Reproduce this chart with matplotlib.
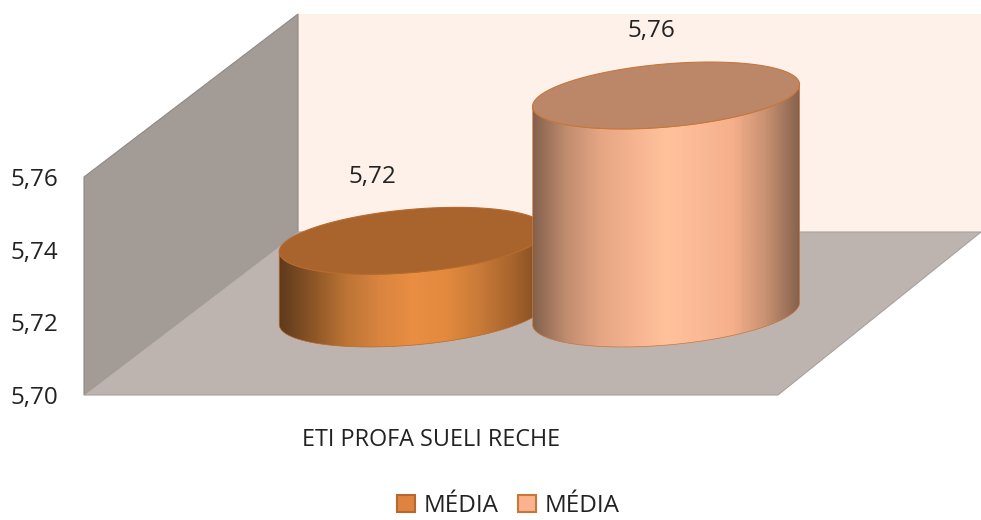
import numpy as np
import matplotlib
matplotlib.use('Agg')
import matplotlib.pyplot as plt
from matplotlib.colors import LinearSegmentedColormap
from matplotlib.patches import Patch, Polygon

categories = ['ETI PROFA SUELI RECHE']
series_names = ['MÉDIA', 'MÉDIA']
series_values = [5.72, 5.76]
value_ticks = [5.70, 5.72, 5.74, 5.76]

W, H = 981, 520
plt.rcParams['font.family'] = ['Open Sans', 'DejaVu Sans']

fig = plt.figure(figsize=(W / 100, H / 100), dpi=100)
# axes is the front plane of the 3d box
ax = fig.add_axes([84 / W, (H - 395) / H, 694 / W, 218 / H])
ymin, ymax = value_ticks[0], value_ticks[-1]
px_x = 1 / 694
px_y = (ymax - ymin) / 218

# depth offset of the box, back plane against the front plane
depth_x = 214 * px_x
depth_y = 163 * px_y
back_right = 1 - 11 * px_x


def project(x, v, d):
    return x + d * depth_x, v + d * depth_y


def poly(points, **kw):
    ax.add_patch(Polygon(points, closed=True, clip_on=False, **kw))


# walls and floor
poly([project(0, ymin, 1), project(0, ymax, 1), project(back_right, ymax, 1), project(back_right, ymin, 1)],
     facecolor='#FDF1EA', edgecolor='none', zorder=1)
poly([project(0, ymin, 0), project(0, ymax, 0), project(0, ymax, 1), project(0, ymin, 1)],
     facecolor='#A39B96', edgecolor='#8F8885', lw=0.8, zorder=2)
poly([project(0, ymin, 0), project(1, ymin, 0), project(back_right, ymin, 1), project(0, ymin, 1)],
     facecolor='#BDB4B0', edgecolor='#A8A19D', lw=0.8, zorder=2)

# cylinders
bar_width = 267 * px_x
bar_offsets = [-0.1805, 0.1845]
bar_depth = 0.50
skew = 11 * px_y
minor = 31.6 * px_y
grads = [
    ['#5E3A1C', '#8C5526', '#BC7435', '#D98440', '#E98E42', '#E38A3E', '#C97B38', '#A8642C', '#7A4A22'],
    ['#85614C', '#C08D6F', '#E5A684', '#F5B38F', '#FFC29B', '#FBB995', '#F5AF8B', '#C79171', '#85614C'],
]
top_colors = ['#A8642C', '#BB8768']
edge_colors = ['#B86A2C', '#C8763A']
label_offsets = [(-40, 64), (-15, 64)]
t = np.linspace(0, 2 * np.pi, 241)

for i, v in enumerate(series_values):
    cx, cy = project(0.5 + bar_offsets[i], ymin, bar_depth)
    top_y = cy + (v - ymin)
    a = bar_width / 2
    ex = a * np.cos(t)
    ey = skew * np.cos(t) + minor * np.sin(t)

    # front half of the base and top outline
    s = np.linspace(np.pi, 2 * np.pi, 121)
    bx = cx + a * np.cos(s)
    by = cy + skew * np.cos(s) + minor * np.sin(s)
    tx = bx[::-1]
    ty = top_y + (skew * np.cos(s) + minor * np.sin(s))[::-1]
    body = np.column_stack([np.r_[bx, tx], np.r_[by, ty]])

    z = 3 + 2 * i
    cmap = LinearSegmentedColormap.from_list('body%d' % i, grads[i])
    im = ax.imshow(np.linspace(0, 1, 256).reshape(1, -1), cmap=cmap, aspect='auto',
                   extent=[cx - a, cx + a, cy - minor * 2, top_y + minor * 2],
                   zorder=z, interpolation='bilinear')
    # imshow keeps the axes box as clip, cylinders stick out of it
    im.set_clip_box(fig.bbox)
    im.set_clip_path(Polygon(body, closed=True, transform=ax.transData))
    poly(body, facecolor='none', edgecolor=edge_colors[i], lw=0.5, zorder=z)
    poly(np.column_stack([cx + ex, top_y + ey]), facecolor=top_colors[i],
         edgecolor=edge_colors[i], lw=0.8, zorder=z + 1)

    ax.annotate(('%.2f' % v).replace('.', ','), (cx, top_y), xytext=label_offsets[i],
                textcoords='offset pixels', ha='center', va='center',
                fontsize=17.5, color='#222222', zorder=10, annotation_clip=False)

ax.set_xlim(0, 1)
ax.set_ylim(ymin, ymax)
ax.patch.set_visible(False)
for sp in ax.spines.values():
    sp.set_visible(False)
ax.set_yticks(value_ticks)
ax.set_yticklabels([('%.2f' % v).replace('.', ',') for v in value_ticks], fontsize=17.5, color='#222222')
ax.set_xticks([0.5])
ax.set_xticklabels(categories, fontsize=16.8, color='#222222')
ax.tick_params(axis='y', length=0, pad=18.5)
ax.tick_params(axis='x', length=0, pad=24)

handles = [
    Patch(facecolor='#DF843F', edgecolor='#B5682F', lw=1.5),
    Patch(facecolor='#FBB28E', edgecolor='#C8763A', lw=1.5),
]
fig.legend(handles, series_names, loc='center', bbox_to_anchor=(508 / W, (H - 506) / H),
           ncol=2, frameon=False, fontsize=17.5, labelcolor='#222222', handlelength=0.75,
           handleheight=0.75, handletextpad=0.35, columnspacing=0.8, borderpad=0, borderaxespad=0)

fig.savefig('out.png', dpi=100, facecolor='white')
